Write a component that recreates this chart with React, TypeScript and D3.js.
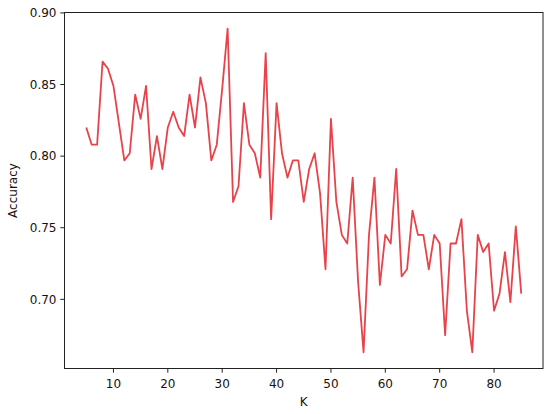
import React from "react";
import * as d3 from "d3";

const kValues: number[] = d3.range(5, 86);
const accuracy: number[] = [
  0.820, 0.808, 0.808, 0.866, 0.861, 0.849, 0.823, 0.797, 0.802, 0.843,
  0.826, 0.849, 0.791, 0.814, 0.791, 0.820, 0.831, 0.820, 0.814, 0.843,
  0.820, 0.855, 0.837, 0.797, 0.808, 0.847, 0.889, 0.768, 0.779, 0.837,
  0.808, 0.802, 0.785, 0.872, 0.756, 0.837, 0.802, 0.785, 0.797, 0.797,
  0.768, 0.791, 0.802, 0.774, 0.721, 0.826, 0.768, 0.745, 0.739, 0.785,
  0.712, 0.663, 0.745, 0.785, 0.710, 0.745, 0.739, 0.791, 0.716, 0.721,
  0.762, 0.745, 0.745, 0.721, 0.745, 0.739, 0.675, 0.739, 0.739, 0.756,
  0.692, 0.663, 0.745, 0.733, 0.739, 0.692, 0.704, 0.733, 0.698, 0.751,
  0.704,
];
const xTicks: number[] = [10, 20, 30, 40, 50, 60, 70, 80];
const yTicks: number[] = [0.7, 0.75, 0.8, 0.85, 0.9];

const W = 550;
const H = 414;
const left = 64.5;
const right = 543;
const top = 12.5;
const bottom = 368.5;
const textColor = "#1a1010";
const font = "DejaVu Sans, sans-serif";

export default function App() {
  const x = d3.scaleLinear().domain([1, 89]).range([left, right]);
  const y = d3.scaleLinear().domain([0.6517, 0.9003]).range([bottom, top]);
  const line = d3
    .line<number>()
    .x((_, i) => x(kValues[i]))
    .y((d) => y(d));
  const path = line(accuracy) || "";
  return (
    <svg
      width={W}
      height={H}
      style={{ position: "absolute", left: 0, top: 0, background: "#fff" }}
      fontFamily={font}
    >
      <rect x={0} y={0} width={W} height={H} fill="#fff" />
      <path d={path} fill="none" stroke="#e8424a" strokeWidth={1.8} strokeLinejoin="round" />
      <rect
        x={left}
        y={top}
        width={right - left}
        height={bottom - top}
        fill="none"
        stroke="#222"
        strokeWidth={1}
      />
      {xTicks.map((t) => (
        <g key={"x" + t} transform={`translate(${x(t)},${bottom})`}>
          <line y1={0} y2={4.2} stroke="#222" strokeWidth={1} />
          <text y={19} textAnchor="middle" fontSize={12} fill={textColor}>
            {t}
          </text>
        </g>
      ))}
      {yTicks.map((t) => (
        <g key={"y" + t} transform={`translate(${left},${y(t)})`}>
          <line x1={0} x2={-4.2} stroke="#222" strokeWidth={1} />
          <text x={-8} dy="0.35em" textAnchor="end" fontSize={12} fill={textColor}>
            {t.toFixed(2)}
          </text>
        </g>
      ))}
      <text x={(left + right) / 2} y={406} textAnchor="middle" fontSize={12} fill={textColor}>
        K
      </text>
      <text
        transform={`translate(17,${(top + bottom) / 2}) rotate(-90)`}
        textAnchor="middle"
        fontSize={12}
        fill={textColor}
      >
        Accuracy
      </text>
    </svg>
  );
}
